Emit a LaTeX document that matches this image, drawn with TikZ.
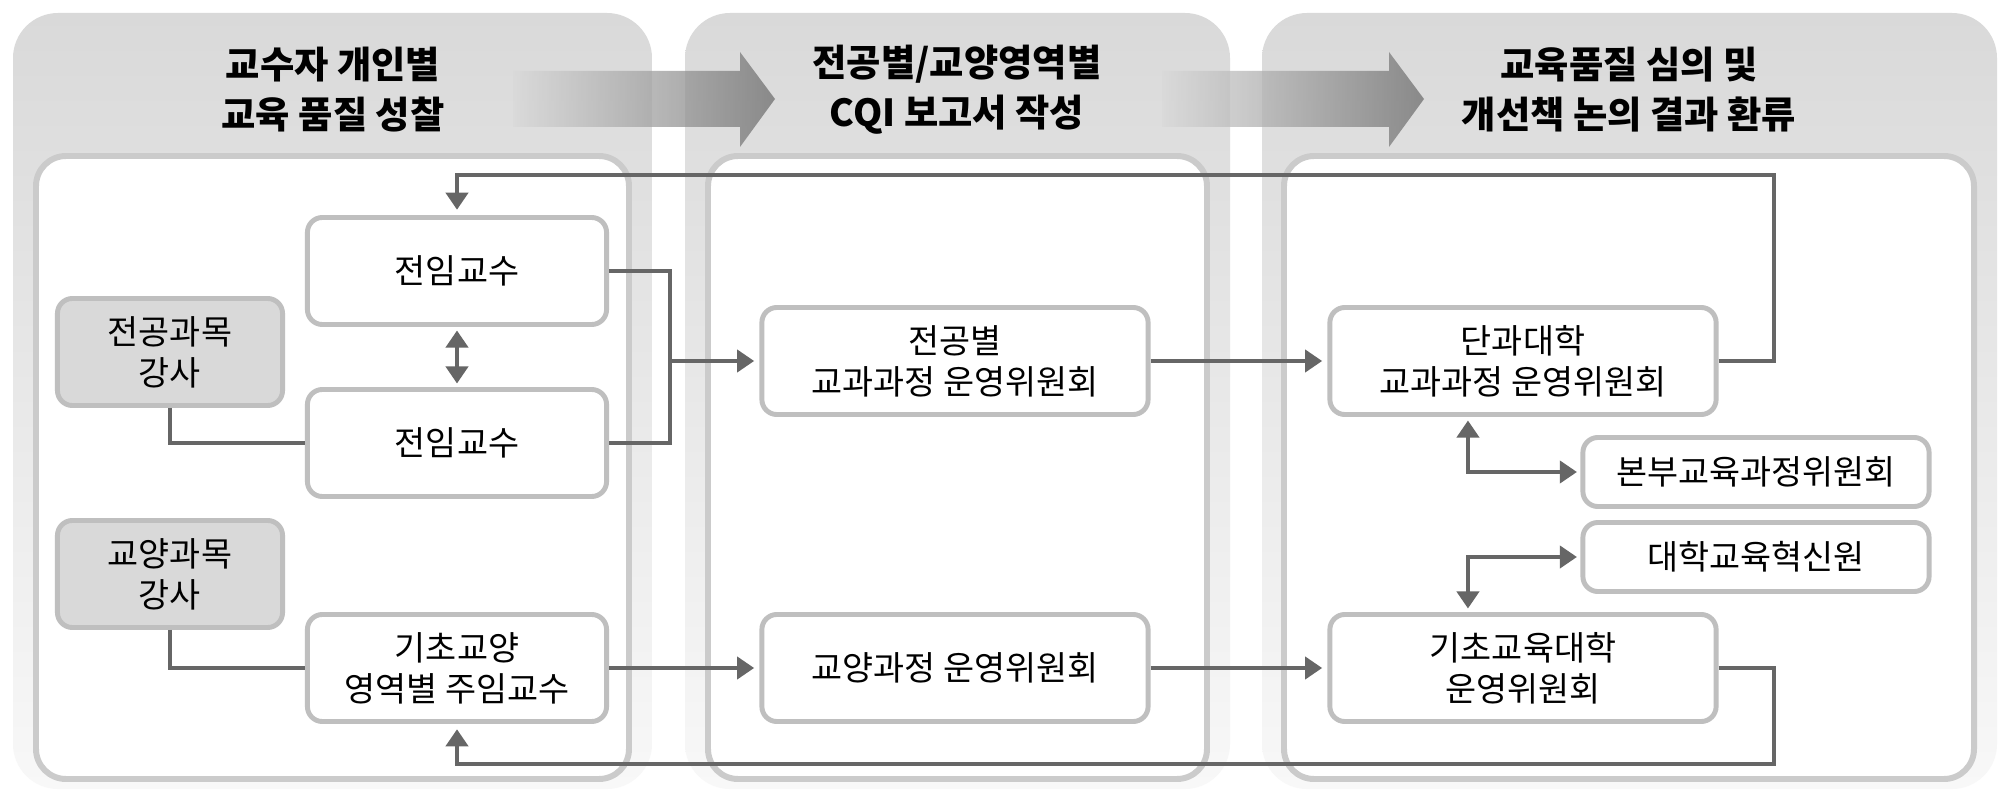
\documentclass[tikz,border=0pt]{standalone}
\usepackage{fontspec}
\setmainfont{Noto Sans CJK KR}
\usetikzlibrary{arrows.meta}

\definecolor{panelgray}{HTML}{D9D9D9}
\definecolor{panelfade}{HTML}{F8F8F8}
\definecolor{innerline}{HTML}{CBCBCB}
\definecolor{boxline}{HTML}{BFBFBF}
\definecolor{linkgray}{HTML}{666666}
\definecolor{flowgray}{HTML}{6E6E6E}

\begin{document}
\begin{tikzpicture}[x=0.01cm, y=-0.01cm,
    panel/.style={shading=axis, top color=panelgray, bottom color=panelfade, rounded corners=0.45cm},
    inner/.style={draw=innerline, line width=1.7pt, fill=white, rounded corners=0.3cm},
    title/.style={font=\fontsize{10.6}{14.2}\selectfont\bfseries, align=center},
    box/.style={draw=boxline, line width=1.4pt, fill=white, rounded corners=0.15cm, align=center,
        minimum width=2.99cm, minimum height=1.07cm, inner sep=0pt, font=\fontsize{9.6}{11.6}\selectfont},
    lecbox/.style={box, fill=panelgray, minimum width=2.25cm},
    wide/.style={box, minimum width=3.86cm},
    slim/.style={box, minimum width=3.46cm, minimum height=0.69cm},
    link/.style={draw=linkgray, line width=1.1pt},
    tip/.style={link, -{Triangle[length=0.17cm, width=0.22cm]}, shorten >=1.5pt},
    both/.style={link, {Triangle[length=0.17cm, width=0.22cm]}-{Triangle[length=0.17cm, width=0.22cm]},
        shorten >=1pt, shorten <=1pt},
    flow/.style={shading=axis, left color=panelgray, right color=flowgray, fill opacity=0.75}
]
    \useasboundingbox (0,0) rectangle (2008,791);
    \fill[white] (0,0) rectangle (2008,791);

    % Panels
    \shade[panel] (13,13) rectangle (652,789);
    \shade[panel] (685,13) rectangle (1230,789);
    \shade[panel] (1262,13) rectangle (1997,789);
    \draw[inner] (36,156) rectangle (629,779);
    \draw[inner] (708,156) rectangle (1207,779);
    \draw[inner] (1284,156) rectangle (1974,779);

    % Flow arrows
    \shade[flow] (513,71) -- (740,71) -- (740,52) -- (775,99) -- (740,147) -- (740,127) -- (513,127) -- cycle;
    \shade[flow] (1162,71) -- (1389,71) -- (1389,52) -- (1424,99) -- (1389,147) -- (1389,127) -- (1162,127) -- cycle;

    % Titles
    \node[title] (t1) at (333,90) {교수자 개인별\\교육 품질 성찰};
    \node[title] (t2) at (957,90) {전공별/교양영역별\\CQI 보고서 작성};
    \node[title] (t3) at (1629,90) {교육품질 심의 및\\개선책 논의 결과 환류};

    % Nodes
    \node[box] (prof1) at (457,271) {전임교수};
    \node[box] (prof2) at (457,443) {전임교수};
    \node[lecbox] (majlec) at (170,352) {전공과목\\강사};
    \node[lecbox] (liblec) at (170,574) {교양과목\\강사};
    \node[box] (libprof) at (457,668) {기초교양\\영역별 주임교수};
    \node[wide] (majcom) at (955,361) {전공별\\교과과정 운영위원회};
    \node[wide] (libcom) at (955,668) {교양과정 운영위원회};
    \node[wide] (colcom) at (1523,361) {단과대학\\교과과정 운영위원회};
    \node[slim] (hqcom) at (1756,472) {본부교육과정위원회};
    \node[slim] (innov) at (1756,557) {대학교육혁신원};
    \node[wide] (basiccom) at (1523,668) {기초교육대학\\운영위원회};

    \coordinate (bus) at (670,361);
    \coordinate (fbtop) at (1774,175);
    \coordinate (fbbot) at (1774,764);

    % Arrows
    \draw[link] (prof1.east) -| (bus) |- (prof2.east);
    \draw[tip] (bus) -- (majcom.west);
    \draw[both] (prof1.south) -- (prof2.north);
    \draw[link] (majlec.south) |- (prof2.west);
    \draw[link] (liblec.south) |- (libprof.west);
    \draw[tip] (libprof.east) -- (libcom.west);
    \draw[tip] (majcom.east) -- (colcom.west);
    \draw[tip] (libcom.east) -- (basiccom.west);
    \draw[tip] (colcom.east) -| (fbtop) -| (prof1.north);
    \draw[tip] (basiccom.east) -| (fbbot) -| (libprof.south);
    \draw[both] ([xshift=-0.55cm]colcom.south) |- (hqcom.west);
    \draw[both] (innov.west) -| ([xshift=-0.55cm]basiccom.north);
\end{tikzpicture}
\end{document}
